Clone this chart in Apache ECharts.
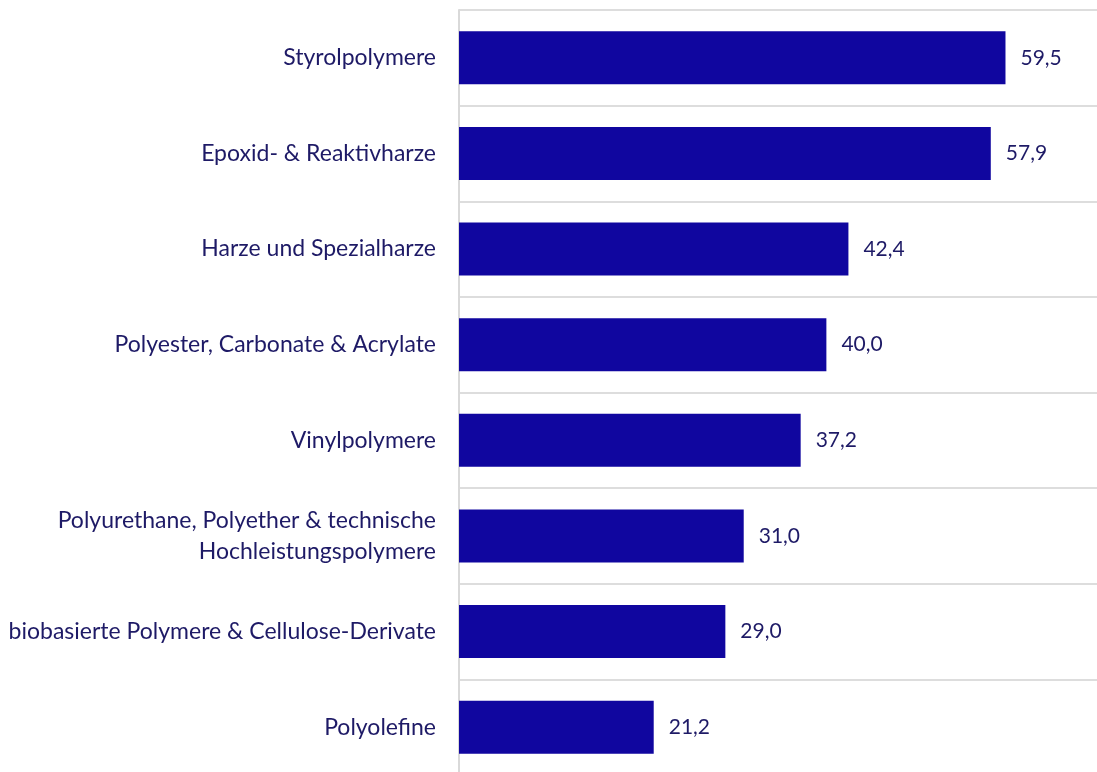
<!DOCTYPE html>
<html><head><meta charset="utf-8">
<script src="https://cdn.jsdelivr.net/npm/echarts@6/dist/echarts.min.js"></script>
<style>html,body{margin:0;padding:0;background:#fff}#c{width:1097px;height:772px}</style>
</head><body><div id="c"></div>
<script>
const categories = ["Styrolpolymere","Epoxid- & Reaktivharze","Harze und Spezialharze","Polyester, Carbonate & Acrylate","Vinylpolymere","Polyurethane, Polyether & technische\nHochleistungspolymere","biobasierte Polymere & Cellulose-Derivate","Polyolefine"];
const values = [59.5,57.9,42.4,40.0,37.2,31.0,29.0,21.2];
const chart = echarts.init(document.getElementById('c'));
const txt = '#1e1a66';
chart.setOption({
  animation:false,
  grid:{left:459,right:-4,top:10,bottom:-3,containLabel:false,outerBoundsMode:'none'},
  xAxis:{type:'value',min:0,max:69.9,show:false,axisLine:{show:false},splitLine:{show:false},axisLabel:{show:false},axisTick:{show:false}},
  yAxis:{type:'category',data:categories,inverse:true,
    axisLine:{show:true,lineStyle:{color:'#d9d9d9',width:2}},
    axisTick:{show:false},
    splitLine:{show:true,lineStyle:{color:'#dddddd',width:2}},
    axisLabel:{color:txt,fontFamily:'Lato',fontSize:23,margin:23,lineHeight:31,align:'right'}},
  series:[{type:'bar',data:values,barCategoryGap:'44.5%',
    itemStyle:{color:'#10069f'},
    label:{show:true,position:'right',distance:15,color:txt,fontFamily:'Lato',fontSize:21,
      formatter:p=>p.value.toFixed(1).replace('.',',')}}]
});
</script></body></html>
